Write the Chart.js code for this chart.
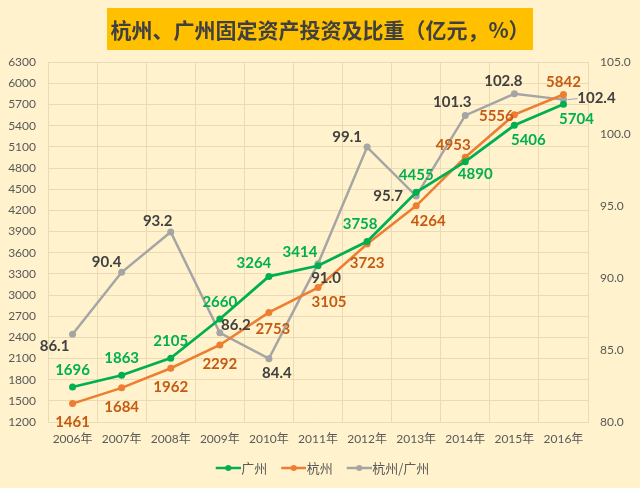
<!DOCTYPE html>
<html>
<head>
<meta charset="utf-8">
<script src="https://cdn.jsdelivr.net/npm/chart.js@4.4.1/dist/chart.umd.min.js"></script>
<style>
html, body { margin: 0; padding: 0; background: #FFF2CC; }
#wrap { width: 640px; height: 488px; position: relative; }
</style>
</head>
<body>
<div id="wrap"><canvas id="c" width="640" height="488"></canvas></div>
<script>
// ---- data ----
const categories = ['2006年', '2007年', '2008年', '2009年', '2010年', '2011年', '2012年', '2013年', '2014年', '2015年', '2016年'];
const guangzhou = [1696, 1863, 2105, 2660, 3264, 3414, 3758, 4455, 4890, 5406, 5704];
const hangzhou = [1461, 1684, 1962, 2292, 2753, 3105, 3723, 4264, 4953, 5556, 5842];
const ratio = [86.1, 90.4, 93.2, 86.2, 84.4, 91.0, 99.1, 95.7, 101.3, 102.8, 102.4];
const leftAxis = { min: 1200, max: 6300, step: 300 };
const rightAxis = { min: 80, max: 105, step: 5 };
const seriesNames = ['广州', '杭州', '杭州/广州'];
const titleText = '杭州、广州固定资产投资及比重（亿元，%）';

// ---- label placement (pixel offsets from each point) ----
const gzLabelOffsets = [[0,-17],[0,-17],[0,-17],[0,-17],[-15,-13],[-18,-14],[-7,-17],[0,-17],[10,12],[14,15],[13,15]];
const hzLabelOffsets = [[0,19],[0,19],[0,19],[0,19],[4,17],[11,15],[0,19],[12,15],[-12,-12],[-18,1],[0,-12]];
const ratioLabelOffsets = [[-18,12],[-15,-10],[-13,-11],[16,-8],[8,14],[8,14],[-20,-10],[-28,0],[-13,-13],[-11,-13],[33,-1]];

// ---- styles ----
const GREEN = '#00B050', ORANGE = '#ED7D31', GREY = '#A5A5A5';
const labelStyles = [
  { offsets: gzLabelOffsets, color: '#00B050', fmt: v => String(v) },
  { offsets: hzLabelOffsets, color: '#C55A11', fmt: v => String(v) },
  { offsets: ratioLabelOffsets, color: '#404040', fmt: v => v.toFixed(1) }
];
const GRID = '#EADBB4';
const TICK = '#595959';
const FONT = "Lato, 'Noto Sans CJK SC', sans-serif";

function makeSymbol(color) {
  const c = document.createElement('canvas');
  c.width = 36; c.height = 10;
  const g = c.getContext('2d');
  g.strokeStyle = color; g.lineWidth = 2.5;
  g.beginPath(); g.moveTo(11, 5); g.lineTo(36, 5); g.stroke();
  g.fillStyle = color;
  g.beginPath(); g.arc(23.5, 5, 3, 0, Math.PI * 2); g.fill();
  return c;
}
const symbols = [makeSymbol(GREEN), makeSymbol(ORANGE), makeSymbol(GREY)];

const bgPlugin = {
  id: 'bg',
  beforeDraw(chart) {
    const ctx = chart.ctx;
    ctx.save();
    ctx.fillStyle = '#FFF2CC';
    ctx.fillRect(0, 0, chart.width, chart.height);
    ctx.fillStyle = '#FFC000';
    ctx.fillRect(107, 8, 426, 42);
    ctx.restore();
  }
};

const labelPlugin = {
  id: 'valueLabels',
  afterDatasetsDraw(chart) {
    const ctx = chart.ctx;
    ctx.save();
    ctx.font = "bold 15px " + FONT;
    ctx.textAlign = 'center';
    ctx.textBaseline = 'middle';
    chart.data.datasets.forEach((ds, di) => {
      const meta = chart.getDatasetMeta(di);
      const st = labelStyles[di];
      meta.data.forEach((pt, i) => {
        const [dx, dy] = st.offsets[i];
        const x = pt.x + dx, y = pt.y + dy;
        if (Math.abs(dx) > 30) {
          ctx.strokeStyle = '#A5A5A5'; ctx.lineWidth = 1;
          ctx.beginPath(); ctx.moveTo(pt.x + 4, pt.y); ctx.lineTo(x - 19, y); ctx.stroke();
        }
        ctx.fillStyle = st.color;
        ctx.fillText(st.fmt(ds.data[i]), x, y);
      });
    });
    ctx.restore();
  }
};

new Chart(document.getElementById('c'), {
  type: 'line',
  data: {
    labels: categories,
    datasets: [
      { label: seriesNames[0], data: guangzhou, yAxisID: 'y', borderColor: GREEN, backgroundColor: GREEN, borderWidth: 2.75, pointRadius: 3.5, pointBackgroundColor: GREEN, pointBorderWidth: 0, tension: 0 },
      { label: seriesNames[1], data: hangzhou, yAxisID: 'y', borderColor: ORANGE, backgroundColor: ORANGE, borderWidth: 2.5, pointRadius: 3.5, pointBackgroundColor: ORANGE, pointBorderWidth: 0, tension: 0 },
      { label: seriesNames[2], data: ratio, yAxisID: 'y1', borderColor: GREY, backgroundColor: GREY, borderWidth: 2.5, pointRadius: 3.5, pointBackgroundColor: GREY, pointBorderWidth: 0, tension: 0 }
    ]
  },
  options: {
    responsive: false,
    animation: false,
    devicePixelRatio: 1,
    layout: { padding: { left: 0, right: 0, top: 0, bottom: 3.5 } },
    plugins: {
      title: {
        display: true, text: titleText, color: '#404040',
        font: { family: "'Noto Sans CJK SC', sans-serif", size: 21, weight: 'bold', lineHeight: 1.2 },
        padding: { top: 17, bottom: 20 }
      },
      legend: {
        position: 'bottom',
        labels: {
          usePointStyle: true, pointStyleWidth: 24, padding: 9, color: TICK,
          font: { family: "'Noto Sans CJK SC', sans-serif", size: 13 },
          generateLabels(chart) {
            const items = Chart.defaults.plugins.legend.labels.generateLabels(chart);
            items.forEach((it, i) => { it.pointStyle = symbols[i]; });
            return items;
          }
        }
      },
      tooltip: { enabled: false }
    },
    scales: {
      x: {
        offset: true,
        grid: { offset: true, color: GRID, drawTicks: false },
        border: { color: GRID },
        ticks: { color: TICK, font: { family: FONT, size: 12 }, padding: 10, maxRotation: 0 },
        afterFit(s) { s.height = 30.5; }
      },
      y: {
        position: 'left', min: leftAxis.min, max: leftAxis.max,
        ticks: { stepSize: leftAxis.step, color: TICK, font: { family: FONT, size: 12 }, padding: 12, callback: v => String(v) },
        grid: { color: GRID, drawTicks: false },
        border: { color: GRID },
        afterFit(s) { s.width = 48; }
      },
      y1: {
        position: 'right', min: rightAxis.min, max: rightAxis.max,
        ticks: { stepSize: rightAxis.step, color: TICK, font: { family: FONT, size: 12 }, padding: 12, callback: v => Number(v).toFixed(1) },
        grid: { drawOnChartArea: false, drawTicks: false },
        border: { color: GRID },
        afterFit(s) { s.width = 52; }
      }
    }
  },
  plugins: [bgPlugin, labelPlugin]
});
</script>
</body>
</html>
